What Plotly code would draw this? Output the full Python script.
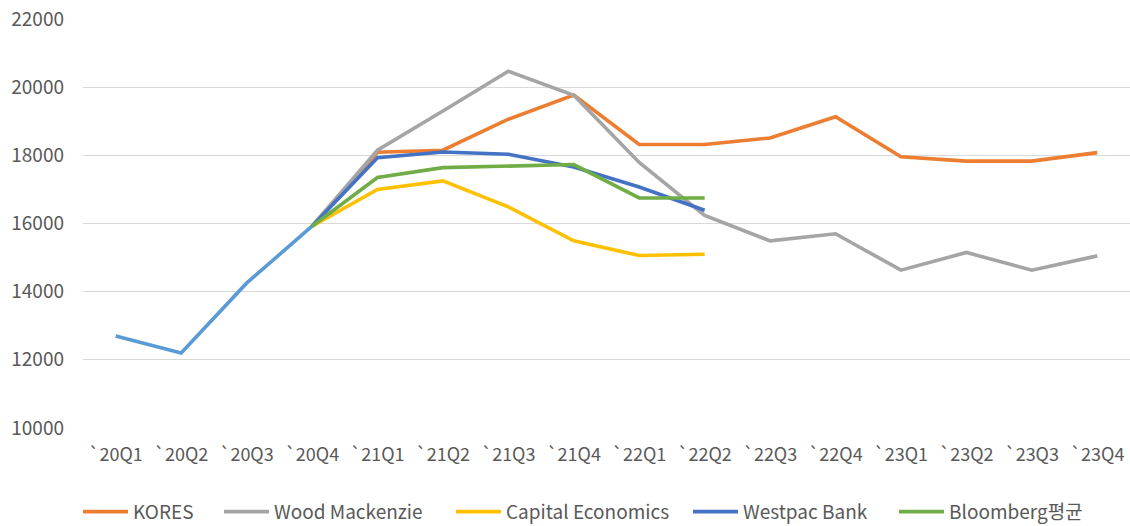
import plotly.graph_objects as go

quarters = ["`20Q1", "`20Q2", "`20Q3", "`20Q4", "`21Q1", "`21Q2", "`21Q3", "`21Q4",
            "`22Q1", "`22Q2", "`22Q3", "`22Q4", "`23Q1", "`23Q2", "`23Q3", "`23Q4"]

# Actual prices up to 20Q4
actual = [12700, 12200, 14250, 15920]

# Forecasts start from the last actual quarter (20Q4)
kores = [15920, 18090, 18150, 19060, 19770, 18320, 18320, 18510, 19130, 17960, 17830, 17830, 18080]
wood_mackenzie = [15920, 18150, 19300, 20470, 19760, 17790, 16240, 15490, 15700, 14630, 15150, 14630, 15050]
capital_economics = [15920, 17000, 17250, 16490, 15490, 15060, 15100]
westpac = [15920, 17930, 18100, 18030, 17660, 17070, 16390]
bloomberg = [15920, 17350, 17640, 17690, 17730, 16750, 16750]

series = [
    ("KORES", kores, "#ED7D31"),
    ("Wood Mackenzie", wood_mackenzie, "#A5A5A5"),
    ("Capital Economics", capital_economics, "#FFC000"),
    ("Westpac Bank", westpac, "#4472C4"),
    ("Bloomberg평균", bloomberg, "#70AD47"),
]

# left edge (px) of each legend entry along the bottom row
legend_x = [78, 219, 451, 688, 894]

font_family = "Noto Sans CJK KR, Noto Sans, sans-serif"
text_color = "#595959"

fig = go.Figure()

fig.add_trace(go.Scatter(
    x=quarters[:len(actual)], y=actual, mode="lines", name="실적",
    line=dict(color="#5B9BD5", width=3.6), showlegend=False, hoverinfo="skip",
))

start = quarters.index("`20Q4")
legend_layout = {}
for i, (name, vals, color) in enumerate(series):
    key = "legend" if i == 0 else f"legend{i + 1}"
    fig.add_trace(go.Scatter(
        x=quarters[start:start + len(vals)], y=vals, mode="lines", name=name,
        line=dict(color=color, width=3.6), legend=key,
    ))
    legend_layout[key] = dict(
        orientation="h", xref="container", x=legend_x[i] / 1130, xanchor="left",
        yref="container", y=0.027, yanchor="middle",
        font=dict(family=font_family, size=19, color=text_color),
        itemwidth=45, bgcolor="rgba(0,0,0,0)",
    )

fig.update_layout(
    width=1130, height=526,
    margin=dict(l=83, r=0, t=19, b=98),
    paper_bgcolor="white", plot_bgcolor="white",
    font=dict(family=font_family, size=18, color=text_color),
    showlegend=True,
    xaxis=dict(
        type="category", categoryorder="array", categoryarray=quarters,
        range=[-0.5, 15.5], showgrid=False, zeroline=False, showline=False,
        ticks="", ticklabelstandoff=14,
    ),
    yaxis=dict(
        range=[10000, 22000], tick0=10000, dtick=2000, tickformat="d",
        showgrid=True, gridcolor="#D9D9D9", gridwidth=1,
        zeroline=False, showline=False, ticks="", ticklabelstandoff=18,
        tickfont=dict(size=19),
    ),
    **legend_layout,
)

fig.write_html("out.html")
